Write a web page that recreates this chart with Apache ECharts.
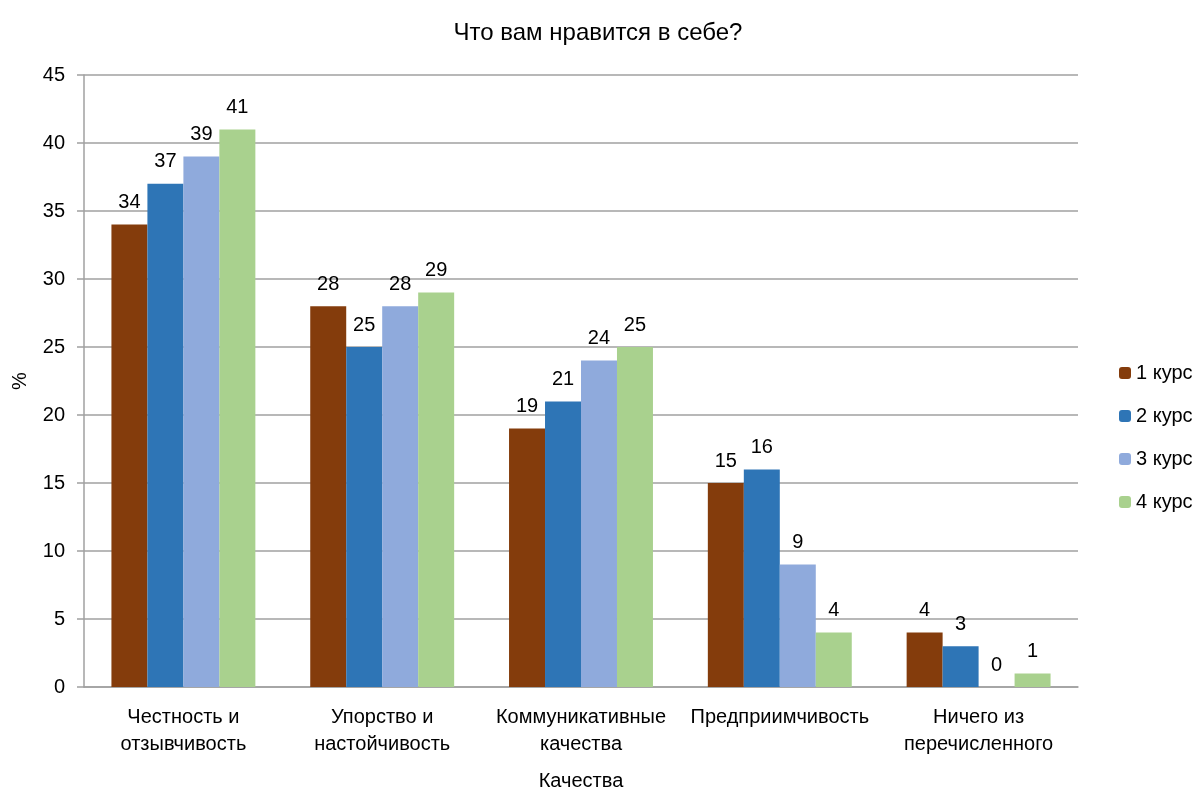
<!DOCTYPE html>
<html><head><meta charset="utf-8">
<script src="https://cdn.jsdelivr.net/npm/echarts@6/dist/echarts.min.js"></script>
<style>html,body{margin:0;padding:0;background:#fff}#c{width:1194px;height:787px}</style>
</head><body><div id="c"></div>
<script>
const categories = ['Честность и\nотзывчивость', 'Упорство и\nнастойчивость', 'Коммуникативные\nкачества', 'Предприимчивость', 'Ничего из\nперечисленного'];
const seriesNames = ['1 курс', '2 курс', '3 курс', '4 курс'];
const kurs1 = [34, 28, 19, 15, 4];
const kurs2 = [37, 25, 21, 16, 3];
const kurs3 = [39, 28, 24, 9, 0];
const kurs4 = [41, 29, 25, 4, 1];
const colors = ['#843C0C', '#2E75B6', '#8FAADC', '#A9D18E'];
const font = '"Liberation Sans Narrow", "Liberation Sans", Arial, sans-serif';
const chart = echarts.init(document.getElementById('c'));
const data = [kurs1, kurs2, kurs3, kurs4];
chart.setOption({
  animation: false,
  textStyle: {fontFamily: font},
  title: {text: 'Что вам нравится в себе?', left: 593, textAlign: 'center', top: 16,
    textStyle: {fontFamily: font, fontSize: 24, fontWeight: 'normal', color: '#000'}},
  legend: {orient: 'vertical', left: 1114, top: 358, itemWidth: 12, itemHeight: 12, itemGap: 23,
    textStyle: {fontFamily: font, fontSize: 20, color: '#000'}, data: seriesNames},
  grid: {left: 84, right: 116, top: 75, bottom: 100, containLabel: false, outerBoundsMode: 'none'},
  xAxis: {type: 'category', data: categories, name: 'Качества', nameLocation: 'middle', nameGap: 84,
    nameTextStyle: {fontFamily: font, fontSize: 20, color: '#000'},
    axisLine: {lineStyle: {color: '#A0A0A0', width: 1.5}}, axisTick: {show: false},
    axisLabel: {fontFamily: font, fontSize: 20, color: '#000', lineHeight: 27, margin: 17, interval: 0}},
  yAxis: {type: 'value', min: 0, max: 45, interval: 5, name: '%', nameLocation: 'middle', nameGap: 54,
    nameTextStyle: {fontFamily: font, fontSize: 20, color: '#000'},
    axisLine: {show: true, lineStyle: {color: '#A0A0A0', width: 1.5}},
    axisTick: {show: true, length: 7, lineStyle: {color: '#A0A0A0', width: 1.5}},
    splitLine: {lineStyle: {color: '#A0A0A0', width: 1.5}},
    axisLabel: {fontFamily: font, fontSize: 20, color: '#000', margin: 19}},
  series: seriesNames.map((n, i) => ({
    name: n, type: 'bar', data: data[i], barGap: '0%', barCategoryGap: '27.6%',
    itemStyle: {color: colors[i]},
    label: {show: true, position: 'top', distance: 12, fontFamily: font, fontSize: 20, color: '#000'}
  }))
});
</script></body></html>
